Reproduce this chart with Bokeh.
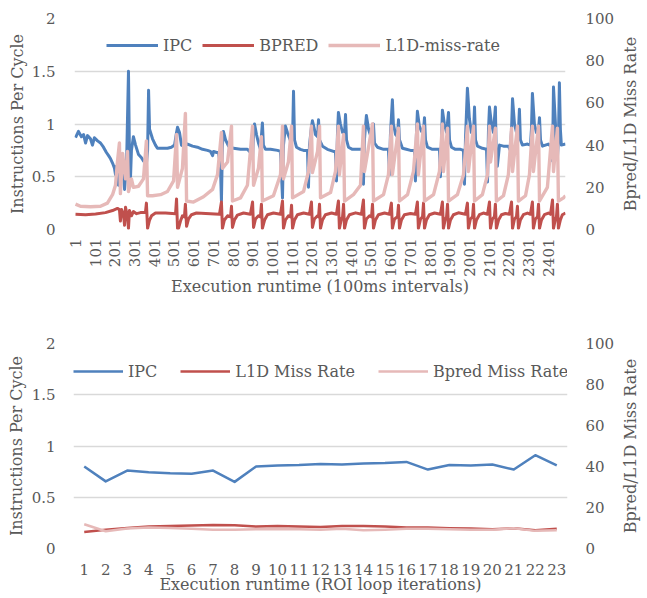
import math
from bokeh.plotting import figure
from bokeh.models import (Range1d, LinearAxis, FixedTicker, Legend, LegendItem,
                          NumeralTickFormatter)
from bokeh.layouts import column, row
from bokeh.embed import file_html
from bokeh.resources import INLINE

# ---------------- data: top chart (100 ms intervals) ----------------
ipc_idx = [1, 16, 31, 42, 52, 62, 77, 87, 97, 113,
           128, 143, 158, 169, 179, 189, 199, 204, 209, 219,
           229, 240, 250, 260, 270, 275, 280, 285, 295, 306,
           321, 336, 346, 361, 367, 372, 377, 392, 407, 417,
           443, 468, 488, 504, 514, 519, 529, 539, 549, 570,
           595, 620, 646, 671, 686, 697, 702, 717, 727, 737,
           742, 747, 752, 763, 778, 803, 839, 874, 889, 900,
           905, 910, 920, 930, 940, 950, 955, 966, 991, 1027,
           1042, 1052, 1057, 1067, 1077, 1093, 1103, 1108, 1113, 1123,
           1143, 1159, 1179, 1184, 1189, 1199, 1204, 1214, 1219, 1230,
           1235, 1240, 1255, 1280, 1311, 1321, 1326, 1331, 1336, 1346,
           1357, 1367, 1372, 1377, 1387, 1407, 1433, 1458, 1463, 1468,
           1478, 1489, 1499, 1509, 1514, 1519, 1534, 1565, 1590, 1595,
           1600, 1610, 1615, 1626, 1636, 1641, 1646, 1661, 1681, 1702,
           1722, 1727, 1732, 1737, 1747, 1758, 1768, 1773, 1778, 1788,
           1813, 1839, 1849, 1854, 1864, 1874, 1885, 1895, 1900, 1910,
           1930, 1956, 1971, 1976, 1981, 1991, 2001, 2011, 2022, 2027,
           2032, 2042, 2067, 2088, 2093, 2098, 2103, 2113, 2123, 2133,
           2138, 2143, 2154, 2174, 2199, 2209, 2215, 2220, 2230, 2240,
           2250, 2255, 2260, 2270, 2296, 2311, 2316, 2321, 2331, 2341,
           2352, 2357, 2362, 2372, 2402, 2418, 2423, 2428, 2438, 2443,
           2448, 2453, 2458, 2463, 2468, 2489]
ipc = [0.87, 0.93, 0.88, 0.90, 0.82, 0.89, 0.86, 0.80, 0.87, 0.84,
       0.82, 0.78, 0.73, 0.70, 0.67, 0.63, 0.58, 0.52, 0.60, 0.42,
       0.58, 0.65, 0.38, 0.60, 1.50, 0.70, 0.48, 0.75, 0.88, 0.80,
       0.71, 0.68, 0.65, 0.62, 0.75, 1.32, 0.95, 0.86, 0.80, 0.77,
       0.77, 0.77, 0.78, 0.80, 0.92, 0.97, 0.92, 0.80, 0.79, 0.81,
       0.79, 0.78, 0.76, 0.75, 0.74, 0.70, 0.74, 0.73, 0.73, 0.60,
       0.27, 0.80, 0.93, 0.85, 0.79, 0.77, 0.76, 0.76, 0.73, 0.68,
       0.90, 1.00, 0.90, 0.82, 0.76, 1.01, 0.80, 0.76, 0.76, 0.75,
       0.74, 0.30, 0.80, 0.98, 0.92, 0.84, 0.85, 1.31, 0.85, 0.78,
       0.76, 0.75, 0.75, 0.40, 0.80, 0.97, 1.03, 0.95, 0.90, 0.88,
       1.04, 0.85, 0.79, 0.76, 0.74, 0.74, 0.46, 0.90, 1.11, 1.00,
       0.92, 0.90, 1.09, 0.85, 0.78, 0.76, 0.76, 0.76, 0.43, 0.85,
       1.08, 0.95, 0.89, 0.88, 1.00, 0.82, 0.78, 0.76, 0.76, 0.52,
       0.90, 1.23, 1.00, 0.90, 0.88, 1.04, 0.85, 0.77, 0.76, 0.75,
       0.75, 0.46, 0.90, 1.12, 0.98, 0.93, 0.93, 1.06, 0.85, 0.78,
       0.76, 0.76, 0.76, 0.50, 1.13, 1.00, 0.92, 1.11, 0.85, 0.78,
       0.76, 0.76, 0.75, 0.43, 0.85, 1.34, 1.05, 0.92, 0.90, 1.16,
       0.85, 0.79, 0.77, 0.76, 0.45, 0.95, 1.16, 1.00, 0.92, 1.16,
       0.65, 0.60, 0.80, 0.79, 0.79, 0.75, 0.95, 1.24, 1.00, 0.92,
       0.92, 1.14, 0.85, 0.80, 0.81, 0.80, 0.95, 1.29, 1.00, 0.92,
       0.95, 1.06, 0.85, 0.79, 0.81, 0.78, 0.65, 1.35, 1.00, 0.75,
       0.68, 0.85, 1.39, 0.95, 0.80, 0.81]

bpred_idx = [1, 52, 103, 153, 189, 214, 224, 229, 235, 245,
             250, 255, 265, 270, 275, 285, 295, 311, 331, 356,
             361, 367, 377, 387, 407, 458, 509, 514, 519, 524,
             534, 544, 554, 559, 565, 575, 590, 615, 686, 732,
             742, 747, 757, 773, 788, 793, 798, 808, 823, 854,
             889, 900, 905, 915, 930, 940, 945, 950, 961, 976,
             1006, 1042, 1052, 1057, 1067, 1082, 1093, 1098, 1103, 1113,
             1128, 1159, 1189, 1199, 1204, 1214, 1230, 1235, 1240, 1245,
             1255, 1270, 1301, 1326, 1336, 1341, 1351, 1357, 1362, 1367,
             1377, 1392, 1423, 1453, 1463, 1468, 1478, 1494, 1504, 1509,
             1514, 1524, 1539, 1570, 1595, 1605, 1610, 1621, 1636, 1641,
             1646, 1656, 1671, 1702, 1727, 1737, 1742, 1753, 1763, 1768,
             1773, 1783, 1798, 1824, 1854, 1864, 1869, 1879, 1885, 1890,
             1895, 1905, 1920, 1945, 1981, 1991, 1996, 2006, 2017, 2022,
             2027, 2037, 2052, 2072, 2093, 2103, 2108, 2118, 2128, 2133,
             2138, 2149, 2164, 2184, 2204, 2215, 2220, 2230, 2240, 2245,
             2250, 2260, 2275, 2296, 2311, 2321, 2326, 2336, 2347, 2352,
             2357, 2367, 2382, 2402, 2413, 2423, 2428, 2438, 2443, 2448,
             2453, 2463, 2473, 2489]
bpred = [7.2, 7.0, 7.3, 8.0, 9.0, 10.0, 9.5, 4.0, 9.5, 7.0,
         2.0, 10.5, 6.0, 0.5, 9.0, 6.5, 8.5, 7.5, 8.0, 8.0,
         12.5, 0.5, 4.5, 6.5, 7.8, 7.8, 7.5, 14.5, 0.5, 0.5,
         4.0, 6.5, 6.0, 12.0, 1.5, 5.0, 7.0, 7.8, 7.5, 7.2,
         13.0, 0.5, 4.5, 6.5, 6.0, 11.0, 1.0, 4.5, 6.8, 7.8,
         7.2, 13.0, 1.0, 5.0, 6.5, 6.0, 12.0, 0.5, 4.5, 7.0,
         7.8, 7.2, 13.5, 0.5, 4.5, 6.5, 6.0, 11.5, 0.5, 4.5,
         7.0, 7.8, 7.2, 13.0, 1.0, 5.0, 6.5, 6.0, 12.0, 0.5,
         4.5, 7.0, 7.8, 7.2, 13.5, 0.5, 5.0, 6.0, 12.0, 0.5,
         4.5, 7.0, 7.9, 7.2, 14.0, 0.5, 5.0, 6.5, 6.0, 12.0,
         0.5, 4.5, 7.0, 7.8, 7.2, 12.5, 0.5, 5.0, 6.0, 11.5,
         0.5, 4.5, 7.0, 7.6, 7.2, 13.0, 0.5, 5.0, 6.0, 12.5,
         0.5, 4.5, 7.0, 7.8, 7.2, 13.0, 0.5, 5.0, 6.0, 12.0,
         0.5, 4.5, 7.0, 7.9, 7.2, 12.5, 0.5, 5.0, 6.0, 12.0,
         0.5, 4.5, 7.0, 7.8, 7.2, 13.0, 0.5, 5.0, 6.0, 12.0,
         0.5, 4.5, 7.0, 7.6, 7.2, 13.0, 0.5, 5.0, 6.0, 11.0,
         0.5, 4.5, 7.0, 7.8, 7.2, 13.0, 0.5, 5.0, 6.0, 12.0,
         0.5, 4.5, 7.0, 7.8, 7.2, 14.0, 0.5, 5.0, 6.0, 12.0,
         0.5, 4.5, 7.0, 7.8]

l1d_idx = [1, 26, 77, 128, 163, 189, 204, 214, 224, 229,
           240, 255, 265, 270, 285, 295, 321, 346, 361, 367,
           392, 433, 468, 499, 514, 519, 544, 559, 565, 600,
           651, 697, 722, 742, 747, 773, 793, 798, 839, 874,
           900, 905, 930, 945, 950, 1006, 1042, 1052, 1057, 1082,
           1098, 1103, 1159, 1184, 1199, 1204, 1230, 1240, 1245, 1296,
           1321, 1336, 1341, 1362, 1367, 1412, 1448, 1463, 1468, 1509,
           1514, 1565, 1590, 1605, 1610, 1641, 1646, 1687, 1717, 1737,
           1742, 1768, 1773, 1819, 1849, 1864, 1869, 1890, 1895, 1940,
           1971, 1991, 1996, 2022, 2027, 2067, 2093, 2103, 2108, 2133,
           2138, 2174, 2199, 2215, 2220, 2245, 2250, 2286, 2306, 2321,
           2326, 2352, 2357, 2397, 2423, 2428, 2448, 2453, 2479, 2489]
l1d = [12.0, 11.0, 10.8, 11.0, 12.5, 16.5, 21.0, 32.0, 41.0, 17.0,
       36.0, 24.0, 37.0, 18.0, 24.0, 20.0, 20.5, 24.0, 42.0, 16.0,
       16.0, 16.5, 18.0, 23.0, 45.0, 20.0, 29.0, 55.0, 13.5, 13.0,
       15.5, 19.0, 26.0, 46.0, 29.0, 32.0, 49.0, 13.5, 15.0, 21.0,
       49.0, 21.0, 29.0, 44.0, 13.5, 16.0, 26.0, 49.0, 24.0, 32.0,
       49.0, 15.0, 18.0, 27.5, 49.0, 27.0, 37.0, 49.0, 15.0, 17.5,
       27.5, 49.0, 26.0, 45.0, 13.5, 16.5, 21.0, 49.0, 27.5, 50.0,
       13.5, 16.5, 26.0, 49.0, 26.0, 48.0, 13.5, 16.5, 27.5, 50.0,
       26.0, 49.0, 13.5, 16.5, 27.5, 50.0, 27.5, 48.0, 13.5, 16.5,
       26.0, 49.0, 27.5, 49.0, 13.5, 16.5, 26.0, 49.0, 32.0, 48.0,
       13.5, 16.0, 26.0, 48.0, 27.5, 49.0, 13.5, 16.0, 26.0, 49.0,
       27.5, 49.0, 13.5, 20.0, 49.0, 27.5, 48.0, 13.5, 15.0, 16.0]

top_xticks = [1, 101, 201, 301, 401, 501, 601, 701, 801, 901, 1001, 1101, 1201,
              1301, 1401, 1501, 1601, 1701, 1801, 1901, 2001, 2101, 2201, 2301, 2401]

# ---------------- data: bottom chart (ROI loop iterations) ----------------
roi_iter = [1, 2, 3, 4, 5, 6, 7, 8, 9, 10, 11, 12, 13, 14, 15, 16, 17, 18, 19, 20, 21, 22, 23]
roi_ipc = [0.80, 0.655, 0.76, 0.745, 0.735, 0.73, 0.76, 0.65, 0.80, 0.81, 0.815, 0.825,
           0.82, 0.83, 0.835, 0.845, 0.77, 0.815, 0.81, 0.82, 0.77, 0.91, 0.81]
roi_l1d = [8.1, 9.2, 10.0, 10.7, 11.0, 11.2, 11.5, 11.3, 10.7, 11.0, 10.7, 10.5,
           11.0, 11.0, 10.7, 10.2, 10.2, 9.9, 9.7, 9.4, 9.9, 8.9, 9.6]
roi_bpred = [11.8, 8.4, 9.7, 10.2, 10.0, 9.6, 9.2, 9.2, 9.4, 9.4, 9.4, 9.2,
             9.6, 8.9, 9.2, 9.6, 9.6, 9.4, 9.2, 9.2, 9.9, 8.6, 8.9]

left_ticks = [0, 0.5, 1, 1.5, 2]
right_ticks = [0, 20, 40, 60, 80, 100]

# ---------------- style ----------------
FONT = "DejaVu Serif"
TXT = "#595959"
BLUE = "#4f81bd"
RED = "#c0504d"
PINK = "#e6b9b8"
GRID = "#d9d9d9"
RIGHT_TITLE = "Bpred/L1D Miss Rate"


def style_axis(ax, tick_size="15px", standoff=18, label_standoff=2):
    ax.axis_line_color = None
    ax.major_tick_line_color = None
    ax.minor_tick_line_color = None
    ax.major_tick_in = 0
    ax.major_tick_out = 0
    ax.minor_tick_in = 0
    ax.minor_tick_out = 0
    ax.major_label_standoff = standoff
    ax.major_label_text_font = FONT
    ax.major_label_text_font_size = tick_size
    ax.major_label_text_color = TXT
    ax.axis_label_text_font = FONT
    ax.axis_label_text_font_size = "16px"
    ax.axis_label_text_color = TXT
    ax.axis_label_text_font_style = "normal"
    try:
        ax.axis_label_standoff = label_standoff
    except Exception:
        ax.axis_label_standoff = 0


def base_figure(height, x_range, bl, br, bt, bb):
    p = figure(width=617, height=height, output_backend="svg", toolbar_location=None,
               x_range=x_range, y_range=Range1d(0, 2),
               min_border_left=bl, min_border_right=br,
               min_border_top=bt, min_border_bottom=bb)
    p.outline_line_color = None
    p.background_fill_color = "white"
    p.border_fill_color = "white"
    p.xgrid.visible = False
    p.ygrid.ticker = FixedTicker(ticks=left_ticks)
    p.ygrid.grid_line_color = GRID
    p.ygrid.grid_line_width = 1.3
    p.yaxis.ticker = FixedTicker(ticks=left_ticks)
    p.yaxis.formatter = NumeralTickFormatter(format="0.[0]")
    p.yaxis.axis_label = "Instructions Per Cycle"
    p.extra_y_ranges = {"pct": Range1d(0, 100)}
    return p


def side_title(height, bt, bb):
    # narrow companion panel whose left-axis title reads bottom-to-top,
    # standing in for the secondary axis title
    s = figure(width=30, height=height, output_backend="svg", toolbar_location=None,
               x_range=Range1d(0, 1), y_range=Range1d(0, 1),
               min_border_left=19, min_border_right=0,
               min_border_top=bt, min_border_bottom=bb)
    s.outline_line_color = None
    s.background_fill_color = "white"
    s.border_fill_color = "white"
    s.xgrid.visible = False
    s.ygrid.visible = False
    s.xaxis.visible = False
    s.yaxis.ticker = FixedTicker(ticks=[])
    s.yaxis.axis_label = RIGHT_TITLE
    style_axis(s.yaxis[0], standoff=0, label_standoff=0)
    return s


# ---------------- top figure ----------------
p1 = base_figure(300, Range1d(-4.1, 2489), 74, 52, 18, 71)
style_axis(p1.yaxis[0], standoff=19, label_standoff=2)
p1.xaxis.ticker = FixedTicker(ticks=top_xticks)
p1.xaxis.major_label_orientation = math.pi / 2
p1.xaxis.axis_label = "Execution runtime (100ms intervals)"
style_axis(p1.xaxis[0], standoff=9, label_standoff=-3)

ax_r1 = LinearAxis(y_range_name="pct", ticker=FixedTicker(ticks=right_ticks))
style_axis(ax_r1, standoff=20, label_standoff=0)
p1.add_layout(ax_r1, "right")

r_ipc = p1.line(ipc_idx, ipc, line_color=BLUE, line_width=3, line_join="round")
r_bp = p1.line(bpred_idx, bpred, line_color=RED, line_width=3, line_join="round",
               y_range_name="pct")
r_l1 = p1.line(l1d_idx, l1d, line_color=PINK, line_width=3.4, line_join="round",
               y_range_name="pct")

leg1 = Legend(items=[LegendItem(label="IPC", renderers=[r_ipc]),
                     LegendItem(label="BPRED", renderers=[r_bp]),
                     LegendItem(label="L1D-miss-rate", renderers=[r_l1])],
              orientation="horizontal", location=(32, 174),
              glyph_width=52, glyph_height=20, label_height=20, label_standoff=5,
              spacing=10, padding=0, margin=0,
              label_text_font=FONT, label_text_font_size="16px", label_text_color=TXT,
              border_line_color=None, background_fill_alpha=0)
p1.add_layout(leg1)
s1 = side_title(300, 18, 71)

# ---------------- bottom figure ----------------
p2 = base_figure(298, Range1d(0.5, 23.5), 73, 47, 43, 50)
style_axis(p2.yaxis[0], standoff=18, label_standoff=3)
p2.xaxis.ticker = FixedTicker(ticks=roi_iter)
p2.xaxis.axis_label = "Execution runtime (ROI loop iterations)"
style_axis(p2.xaxis[0], standoff=15, label_standoff=-3)

ax_r2 = LinearAxis(y_range_name="pct", ticker=FixedTicker(ticks=right_ticks))
style_axis(ax_r2, standoff=18, label_standoff=0)
p2.add_layout(ax_r2, "right")

q_ipc = p2.line(roi_iter, roi_ipc, line_color=BLUE, line_width=2.5, line_join="round")
q_l1 = p2.line(roi_iter, roi_l1d, line_color=RED, line_width=2.5, line_join="round",
               y_range_name="pct")
q_bp = p2.line(roi_iter, roi_bpred, line_color=PINK, line_width=2.5, line_join="round",
               y_range_name="pct")

leg2 = Legend(items=[LegendItem(label="IPC", renderers=[q_ipc]),
                     LegendItem(label="L1D Miss Rate", renderers=[q_l1]),
                     LegendItem(label="Bpred Miss Rate", renderers=[q_bp])],
              orientation="horizontal", location=(0, 167),
              glyph_width=50, glyph_height=20, label_height=20, label_standoff=5,
              spacing=23, padding=0, margin=0,
              label_text_font=FONT, label_text_font_size="16px", label_text_color=TXT,
              border_line_color=None, background_fill_alpha=0)
p2.add_layout(leg2)
s2 = side_title(298, 43, 50)

layout = column(row(p1, s1, spacing=0), row(p2, s2, spacing=0), spacing=0)
open("out.html", "w").write(file_html(layout, INLINE))
